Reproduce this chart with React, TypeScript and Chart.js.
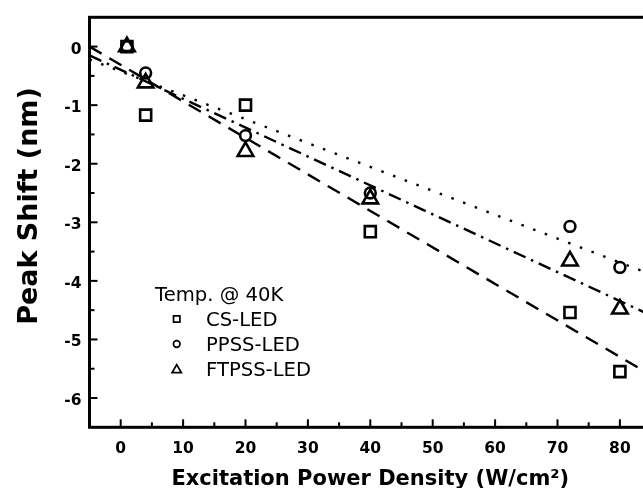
import { useEffect, useRef } from 'react';
import { Chart, registerables } from 'chart.js';

Chart.register(...registerables);

// ---- data ----
const xValues = [1, 4, 20, 40, 72, 80];
const csLed = [0, -1.17, -1.0, -3.16, -4.54, -5.55];
const ppssLed = [0, -0.45, -1.52, -2.5, -3.07, -3.77];
const ftpssLed = [0, -0.62, -1.79, -2.6, -3.66, -4.48];

// linear-fit line end points
const fitX = [-5, 85];
const csFit = [0.0, -5.61];
const ppssFit = [-0.22, -3.89];
const ftpssFit = [-0.15, -4.59];

const seriesLabels = ['CS-LED', 'PPSS-LED', 'FTPSS-LED'];
const legendTitle = 'Temp. @ 40K';
const xTitle = 'Excitation Power Density (W/cm²)';
const yTitle = 'Peak Shift (nm)';

const xTicks = [0, 10, 20, 30, 40, 50, 60, 70, 80];
const xMinorTicks = [5, 15, 25, 35, 45, 55, 65, 75];
const yTicks = [-6, -5, -4, -3, -2, -1, 0];
const yMinorTicks = [-5.5, -4.5, -3.5, -2.5, -1.5, -0.5];

const FONT = '"DejaVu Sans", sans-serif';

function pts(xs: number[], ys: number[]) {
  return xs.map((x, i) => ({ x, y: ys[i] }));
}

function drawMarker(ctx: CanvasRenderingContext2D, style: string, x: number, y: number, r: number) {
  ctx.beginPath();
  if (style === 'rect') {
    const s = Math.SQRT1_2 * r;
    ctx.rect(x - s, y - s, 2 * s, 2 * s);
  } else if (style === 'circle') {
    ctx.arc(x, y, r, 0, Math.PI * 2);
  } else {
    let rad = 0;
    ctx.moveTo(x + Math.sin(rad) * r, y - Math.cos(rad) * r);
    rad += (2 * Math.PI) / 3;
    ctx.lineTo(x + Math.sin(rad) * r, y - Math.cos(rad) * r);
    rad += (2 * Math.PI) / 3;
    ctx.lineTo(x + Math.sin(rad) * r, y - Math.cos(rad) * r);
    ctx.closePath();
  }
  ctx.stroke();
}

const framePlugin = {
  id: 'frameAndTicks',
  afterDraw(chart: any) {
    const { ctx, chartArea } = chart;
    const xs = chart.scales.x;
    const ys = chart.scales.y;
    ctx.save();
    ctx.strokeStyle = '#000';
    // inward ticks
    ctx.lineWidth = 2;
    const tick = (v: number, len: number, horiz: boolean) => {
      ctx.beginPath();
      if (horiz) {
        const p = xs.getPixelForValue(v);
        ctx.moveTo(p, chartArea.bottom);
        ctx.lineTo(p, chartArea.bottom - len);
      } else {
        const p = ys.getPixelForValue(v);
        ctx.moveTo(chartArea.left, p);
        ctx.lineTo(chartArea.left + len, p);
      }
      ctx.stroke();
    };
    xTicks.forEach((v) => tick(v, 8, true));
    xMinorTicks.forEach((v) => tick(v, 5, true));
    yTicks.forEach((v) => tick(v, 8, false));
    yMinorTicks.forEach((v) => tick(v, 5, false));
    // frame
    ctx.lineWidth = 3;
    ctx.strokeRect(chartArea.left, chartArea.top, chartArea.right - chartArea.left, chartArea.bottom - chartArea.top);

    // axis titles
    ctx.fillStyle = '#000';
    ctx.font = `bold 21px ${FONT}`;
    ctx.textAlign = 'center';
    ctx.textBaseline = 'alphabetic';
    ctx.fillText(xTitle, (chartArea.left + 651) / 2, 485);
    ctx.save();
    ctx.translate(37, 206);
    ctx.rotate(-Math.PI / 2);
    ctx.font = `bold 27px ${FONT}`;
    ctx.fillText(yTitle, 0, 0);
    ctx.restore();

    // legend
    ctx.font = `19.6px ${FONT}`;
    ctx.textAlign = 'left';
    ctx.fillText(legendTitle, 155, 301);
    const rows = [326, 351, 376];
    const ds = chart.data.datasets;
    ctx.lineWidth = 1.7;
    for (let i = 0; i < 3; i++) {
      const style = ds[i].pointStyle as string;
      const r = style === 'rect' ? 4.5 : style === 'circle' ? 3.3 : 5.4;
      const cy = rows[i] - 7 + (style === 'triangle' ? 1 : 0);
      drawMarker(ctx, style, 176.7, cy, r);
      ctx.fillText(ds[i].label, 206, rows[i]);
    }
    ctx.restore();
  },
};

export default function App() {
  const ref = useRef<HTMLCanvasElement | null>(null);
  useEffect(() => {
    if (!ref.current) return;
    const markerBase = {
      showLine: false,
      borderColor: '#000',
      backgroundColor: 'rgba(0,0,0,0)',
      pointBorderColor: '#000',
      pointBackgroundColor: 'rgba(0,0,0,0)',
      pointBorderWidth: 2.6,
    };
    const lineBase = {
      showLine: true,
      borderColor: '#000',
      borderWidth: 2.4,
      pointRadius: 0,
      fill: false,
    };
    const chart = new Chart(ref.current, {
      type: 'scatter',
      data: {
        datasets: [
          { ...markerBase, label: seriesLabels[0], data: pts(xValues, csLed), pointStyle: 'rect', pointRadius: 7.8 },
          { ...markerBase, label: seriesLabels[1], data: pts(xValues, ppssLed), pointStyle: 'circle', pointRadius: 5.4 },
          { ...markerBase, label: seriesLabels[2], data: pts(xValues, ftpssLed), pointStyle: 'triangle', pointRadius: 9 },
          { ...lineBase, label: 'CS fit', data: pts(fitX, csFit), borderDash: [14, 9] },
          { ...lineBase, label: 'PPSS fit', data: pts(fitX, ppssFit), borderDash: [2.5, 10] },
          { ...lineBase, label: 'FTPSS fit', data: pts(fitX, ftpssFit), borderDash: [13, 6, 2.5, 6] },
        ] as any,
      },
      options: {
        responsive: false,
        animation: false,
        devicePixelRatio: 1,
        layout: { padding: { top: 13.5, left: 0, right: 28.9, bottom: 0 } },
        plugins: { legend: { display: false }, tooltip: { enabled: false } },
        scales: {
          x: {
            type: 'linear',
            min: -5,
            max: 85,
            grid: { display: false, drawTicks: false },
            border: { display: false },
            afterFit: (s: any) => { s.height = 60.7; },
            afterBuildTicks: (s: any) => { s.ticks = xTicks.map((v) => ({ value: v })); },
            ticks: { padding: 12, color: '#000', font: { family: FONT, weight: 'bold', size: 15.5 }, maxRotation: 0, autoSkip: false },
          },
          y: {
            type: 'linear',
            min: -6.5,
            max: 0.5,
            grid: { display: false, drawTicks: false },
            border: { display: false },
            afterFit: (s: any) => { s.width = 89.5; },
            afterBuildTicks: (s: any) => { s.ticks = yTicks.map((v) => ({ value: v })); },
            ticks: { padding: 8, labelOffset: 3, color: '#000', font: { family: FONT, weight: 'bold', size: 15.5 }, autoSkip: false },
          },
        },
      } as any,
      plugins: [framePlugin],
    });
    return () => chart.destroy();
  }, []);
  return (
    <div style={{ position: 'fixed', left: 0, top: 0, width: 643, height: 488, overflow: 'hidden', background: '#fff' }}>
      <canvas ref={ref} width={680} height={488} style={{ display: 'block' }} />
    </div>
  );
}
